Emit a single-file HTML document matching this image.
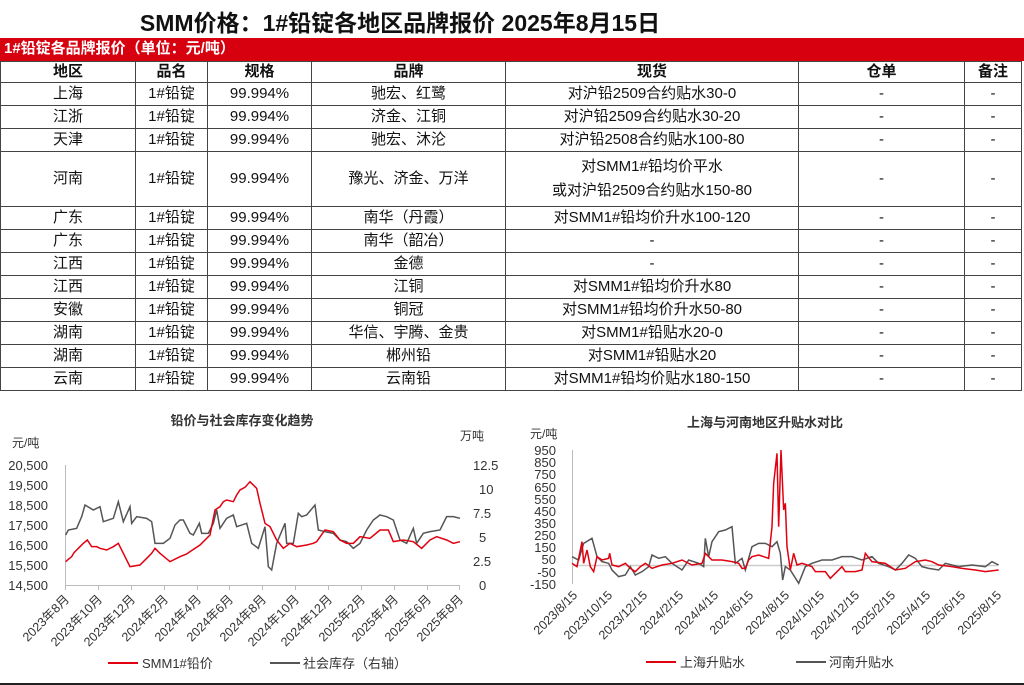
<!DOCTYPE html>
<html><head><meta charset="utf-8"><style>
body{margin:0;width:1024px;height:685px;background:#fff;overflow:hidden;font-family:"Liberation Sans","Noto Sans CJK SC",sans-serif;position:relative}
.title{position:absolute;left:0;width:800px;top:4px;text-align:center;font-size:23px;font-weight:bold;color:#111}
.bar{position:absolute;left:0;top:38px;width:1024px;height:23px;background:#d7000f;color:#fff;font-weight:bold;font-size:15px;line-height:22px;padding-left:4px;box-sizing:border-box}
table{position:absolute;left:0;top:61px;border-collapse:collapse;font-size:15px;color:#111}
td{border:1px solid #444;text-align:center;padding:0;height:22px;line-height:18px}
th{border:1px solid #444;height:20px;line-height:18px;font-size:15px;padding:0}
svg{position:absolute;left:0;top:0}
</style></head><body>
<div class="title">SMM价格：1#铅锭各地区品牌报价 2025年8月15日</div>
<div class="bar">1#铅锭各品牌报价（单位：元/吨）</div>
<table>
<tr><th style="width:134px">地区</th><th style="width:71px">品名</th><th style="width:103px">规格</th><th style="width:193px">品牌</th><th style="width:292px">现货</th><th style="width:165px">仓单</th><th style="width:56px">备注</th></tr>
<tr><td>上海</td><td>1#铅锭</td><td>99.994%</td><td>驰宏、红鹭</td><td>对沪铅2509合约贴水30-0</td><td>-</td><td>-</td></tr>
<tr><td>江浙</td><td>1#铅锭</td><td>99.994%</td><td>济金、江铜</td><td>对沪铅2509合约贴水30-20</td><td>-</td><td>-</td></tr>
<tr><td>天津</td><td>1#铅锭</td><td>99.994%</td><td>驰宏、沐沦</td><td>对沪铅2508合约贴水100-80</td><td>-</td><td>-</td></tr>
<tr><td style="height:54px">河南</td><td>1#铅锭</td><td>99.994%</td><td>豫光、济金、万洋</td><td style="line-height:24px">对SMM1#铅均价平水<br>或对沪铅2509合约贴水150-80</td><td>-</td><td>-</td></tr>
<tr><td>广东</td><td>1#铅锭</td><td>99.994%</td><td>南华（丹霞）</td><td>对SMM1#铅均价升水100-120</td><td>-</td><td>-</td></tr>
<tr><td>广东</td><td>1#铅锭</td><td>99.994%</td><td>南华（韶冶）</td><td>-</td><td>-</td><td>-</td></tr>
<tr><td>江西</td><td>1#铅锭</td><td>99.994%</td><td>金德</td><td>-</td><td>-</td><td>-</td></tr>
<tr><td>江西</td><td>1#铅锭</td><td>99.994%</td><td>江铜</td><td>对SMM1#铅均价升水80</td><td>-</td><td>-</td></tr>
<tr><td>安徽</td><td>1#铅锭</td><td>99.994%</td><td>铜冠</td><td>对SMM1#铅均价升水50-80</td><td>-</td><td>-</td></tr>
<tr><td>湖南</td><td>1#铅锭</td><td>99.994%</td><td>华信、宇腾、金贵</td><td>对SMM1#铅贴水20-0</td><td>-</td><td>-</td></tr>
<tr><td>湖南</td><td>1#铅锭</td><td>99.994%</td><td>郴州铅</td><td>对SMM1#铅贴水20</td><td>-</td><td>-</td></tr>
<tr><td>云南</td><td>1#铅锭</td><td>99.994%</td><td>云南铅</td><td>对SMM1#铅均价贴水180-150</td><td>-</td><td>-</td></tr>
</table>
<svg width="1024" height="685" font-family="Liberation Sans, Noto Sans CJK SC, sans-serif" font-size="13" fill="#333">
<text x="242" y="425" text-anchor="middle" font-weight="bold" font-size="13">铅价与社会库存变化趋势</text>
<text x="12" y="447" font-size="12">元/吨</text>
<text x="460" y="440" font-size="12">万吨</text>
<g text-anchor="end" font-size="13"><text x="48" y="470">20,500</text><text x="48" y="490">19,500</text><text x="48" y="510">18,500</text><text x="48" y="530">17,500</text><text x="48" y="550">16,500</text><text x="48" y="570">15,500</text><text x="48" y="590">14,500</text></g>
<g font-size="13"><text x="473" y="470">12.5</text><text x="479" y="494">10</text><text x="473" y="518">7.5</text><text x="479" y="542">5</text><text x="473" y="566">2.5</text><text x="479" y="590">0</text></g>
<line x1="65.5" y1="465" x2="65.5" y2="585" stroke="#bbb"/><line x1="65" y1="585.5" x2="460" y2="585.5" stroke="#bbb"/>
<g stroke="#bbb"><line x1="65.5" y1="586" x2="65.5" y2="590"/><line x1="98.5" y1="586" x2="98.5" y2="590"/><line x1="131.5" y1="586" x2="131.5" y2="590"/><line x1="164.5" y1="586" x2="164.5" y2="590"/><line x1="197.5" y1="586" x2="197.5" y2="590"/><line x1="229.5" y1="586" x2="229.5" y2="590"/><line x1="262.5" y1="586" x2="262.5" y2="590"/><line x1="295.5" y1="586" x2="295.5" y2="590"/><line x1="328.5" y1="586" x2="328.5" y2="590"/><line x1="361.5" y1="586" x2="361.5" y2="590"/><line x1="394.5" y1="586" x2="394.5" y2="590"/><line x1="427.5" y1="586" x2="427.5" y2="590"/><line x1="459.5" y1="586" x2="459.5" y2="590"/></g>
<g font-size="12.5" text-anchor="end">
<text transform="translate(70,600) rotate(-45)">2023年8月</text><text transform="translate(103,600) rotate(-45)">2023年10月</text><text transform="translate(136,600) rotate(-45)">2023年12月</text><text transform="translate(169,600) rotate(-45)">2024年2月</text><text transform="translate(202,600) rotate(-45)">2024年4月</text><text transform="translate(234,600) rotate(-45)">2024年6月</text><text transform="translate(267,600) rotate(-45)">2024年8月</text><text transform="translate(300,600) rotate(-45)">2024年10月</text><text transform="translate(333,600) rotate(-45)">2024年12月</text><text transform="translate(366,600) rotate(-45)">2025年2月</text><text transform="translate(399,600) rotate(-45)">2025年4月</text><text transform="translate(432,600) rotate(-45)">2025年6月</text><text transform="translate(464,600) rotate(-45)">2025年8月</text></g>
<g transform="translate(0,400) scale(0.33333)" fill="none" stroke-width="1.5">
<polyline vector-effect="non-scaling-stroke" stroke="#555" points="197,405 205,390 230,385 245,350 255,315 280,330 300,320 310,365 340,355 355,305 370,365 390,320 395,370 410,350 440,355 455,365 465,430 490,430 510,415 525,375 540,360 550,360 570,400 580,405 598,370 605,400 625,400 640,370 650,330 660,385 680,355 700,345 710,380 740,370 755,430 775,445 795,380 805,500 815,510 830,430 855,370 860,430 880,430 895,340 905,350 920,345 945,315 955,390 975,395 1000,400 1020,420 1040,425 1060,445 1080,430 1100,390 1120,360 1140,345 1160,350 1180,360 1200,420 1220,430 1240,385 1250,430 1270,400 1290,395 1320,390 1340,350 1360,350 1380,355"/>
<polyline vector-effect="non-scaling-stroke" stroke="#e0000f" points="197,485 205,478 215,470 222,458 230,450 240,440 250,430 262,420 275,440 290,440 300,445 320,450 340,440 355,430 370,460 390,500 420,495 445,470 455,460 465,445 480,460 510,485 540,470 560,462 570,455 600,435 630,405 645,330 660,320 670,305 680,300 700,305 710,285 720,270 735,262 750,245 770,265 780,310 795,370 810,380 830,420 850,445 870,430 890,440 920,435 940,430 950,425 975,390 1000,395 1020,420 1040,430 1060,430 1080,410 1110,415 1140,390 1165,390 1180,425 1210,420 1240,425 1265,445 1290,420 1310,410 1340,420 1360,430 1380,425"/>
</g>
<line x1="108" y1="663" x2="138" y2="663" stroke="#e0000f" stroke-width="2"/><text x="142" y="668" font-size="13">SMM1#铅价</text>
<line x1="270" y1="663" x2="300" y2="663" stroke="#555" stroke-width="2"/><text x="303" y="668" font-size="13">社会库存（右轴）</text>
<text x="765" y="427" text-anchor="middle" font-weight="bold" font-size="13">上海与河南地区升贴水对比</text>
<text x="530" y="438" font-size="12">元/吨</text>
<g text-anchor="end" font-size="13"><text x="556" y="455">950</text><text x="556" y="467">850</text><text x="556" y="479">750</text><text x="556" y="492">650</text><text x="556" y="504">550</text><text x="556" y="516">450</text><text x="556" y="528">350</text><text x="556" y="540">250</text><text x="556" y="552">150</text><text x="556" y="564">50</text><text x="556" y="577">-50</text><text x="556" y="589">-150</text></g>
<line x1="572.5" y1="450" x2="572.5" y2="584" stroke="#bbb"/>
<line x1="572" y1="565.5" x2="998" y2="565.5" stroke="#ccc" stroke-width="1.5"/>
<g font-size="12.5" text-anchor="end">
<text transform="translate(578,596) rotate(-45)">2023/8/15</text><text transform="translate(613,596) rotate(-45)">2023/10/15</text><text transform="translate(648,596) rotate(-45)">2023/12/15</text><text transform="translate(684,596) rotate(-45)">2024/2/15</text><text transform="translate(719,596) rotate(-45)">2024/4/15</text><text transform="translate(754,596) rotate(-45)">2024/6/15</text><text transform="translate(790,596) rotate(-45)">2024/8/15</text><text transform="translate(825,596) rotate(-45)">2024/10/15</text><text transform="translate(860,596) rotate(-45)">2024/12/15</text><text transform="translate(896,596) rotate(-45)">2025/2/15</text><text transform="translate(931,596) rotate(-45)">2025/4/15</text><text transform="translate(966,596) rotate(-45)">2025/6/15</text><text transform="translate(1002,596) rotate(-45)">2025/8/15</text></g>
<g transform="translate(512,400) scale(0.33333)" fill="none" stroke-width="1.5">
<polyline vector-effect="non-scaling-stroke" stroke="#555" points="180,470 200,480 215,430 240,415 255,470 270,485 290,490 300,510 320,530 340,525 355,500 370,525 390,515 410,500 420,465 440,475 460,470 480,490 510,510 530,480 560,490 575,500 580,415 590,470 600,425 620,395 640,390 660,380 670,490 690,475 700,510 720,440 740,430 760,430 780,440 795,425 805,460 812,540 820,500 835,510 860,550 880,500 900,490 930,480 960,480 990,470 1020,470 1050,480 1080,470 1100,490 1130,500 1150,510 1170,490 1190,465 1210,475 1230,500 1250,505 1280,510 1300,490 1340,500 1380,495 1420,500 1440,485 1460,495"/>
<polyline vector-effect="non-scaling-stroke" stroke="#e0000f" points="180,490 195,500 210,425 215,490 225,450 235,500 245,515 255,470 270,480 290,475 293,460 300,495 320,500 340,490 355,505 370,515 385,500 400,490 420,505 450,495 480,490 510,480 540,495 570,490 580,460 600,480 630,480 660,485 680,490 690,505 700,505 710,480 720,470 740,465 770,475 780,380 785,250 795,160 800,380 807,150 815,330 820,310 825,440 835,510 845,460 855,495 870,490 900,500 910,515 940,515 955,535 970,520 990,500 1000,515 1030,515 1050,510 1060,460 1080,485 1120,490 1150,510 1180,505 1210,485 1240,480 1260,485 1280,495 1320,500 1350,505 1390,510 1420,515 1460,510"/>
</g>
<line x1="646" y1="662" x2="676" y2="662" stroke="#e0000f" stroke-width="2"/><text x="680" y="667" font-size="13">上海升贴水</text>
<line x1="796" y1="662" x2="826" y2="662" stroke="#555" stroke-width="2"/><text x="829" y="667" font-size="13">河南升贴水</text>
<line x1="0" y1="684" x2="1024" y2="684" stroke="#222" stroke-width="2"/>
</svg>
</body></html>
